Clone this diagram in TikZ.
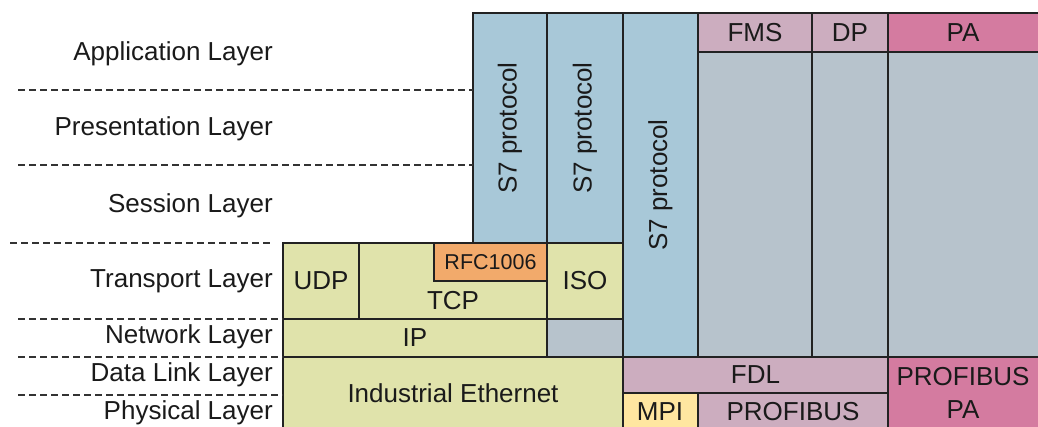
\documentclass[tikz,border=0pt]{standalone}
\usepackage{fontspec}
\setmainfont{Liberation Sans}
\usetikzlibrary{fit}
\definecolor{sblue}{HTML}{A8C8D8}
\definecolor{sgrey}{HTML}{B7C3CC}
\definecolor{spink}{HTML}{CCADBF}
\definecolor{smag}{HTML}{D47BA0}
\definecolor{syg}{HTML}{E0E3AB}
\definecolor{sorange}{HTML}{F2AA6B}
\definecolor{syel}{HTML}{FFE6A0}
\definecolor{sline}{HTML}{222222}
\definecolor{stext}{HTML}{1A1A1A}
\begin{document}
\begin{tikzpicture}[x=1pt,y=-1pt,
  cell/.style={draw=sline, line width=2pt, inner sep=0pt, outer sep=0pt, rectangle},
  lbl/.style={inner sep=0pt, font=\fontsize{26}{30}\selectfont, text=stext},
  small/.style={lbl, font=\fontsize{21.5}{24}\selectfont},
  layer/.style={lbl, anchor=east},
  divider/.style={draw=black!80, line width=1.3pt, dash pattern=on 7pt off 4pt}]
\useasboundingbox (0,0) rectangle (1038,427);
\clip (0,0) rectangle (1038,427);
% S7 protocol columns
\node[cell, fill=sblue, fit={(473,13)(547,243)}] (s7a) {};
\node[cell, fill=sblue, fit={(547,13)(623,243)}] (s7b) {};
\node[cell, fill=sblue, fit={(623,13)(698,357)}] (s7c) {};
\node[lbl, rotate=90] (s7at) at (s7a.center) {S7 protocol};
\node[lbl, rotate=90] (s7bt) at (s7b.center) {S7 protocol};
\node[lbl, rotate=90] (s7ct) at (s7c.center) {S7 protocol};
% PROFIBUS upper layers
\node[cell, fill=spink, fit={(698,13)(812,52)}] (fms) {};
\node[lbl] (fmst) at (fms.center) {FMS};
\node[cell, fill=spink, fit={(812,13)(888,52)}] (dp) {};
\node[lbl] (dpt) at (dp.center) {DP};
\node[cell, fill=smag, fit={(888,13)(1041,52)}] (pa) {};
\node[lbl] (pat) at (963,33) {PA};
\node[cell, fill=sgrey, fit={(698,52)(812,357)}] (g1) {};
\node[cell, fill=sgrey, fit={(812,52)(888,357)}] (g2) {};
\node[cell, fill=sgrey, fit={(888,52)(1041,357)}] (g3) {};
% Ethernet stack
\node[cell, fill=syg, fit={(283,243)(359,319)}] (udp) {};
\node[lbl] (udpt) at (udp.center) {UDP};
\node[cell, fill=syg, fit={(359,243)(547,319)}] (tcp) {};
\node[lbl] (tcpt) at (453,301) {TCP};
\node[cell, fill=sorange, fit={(434,243)(547,281)}] (rfc) {};
\node[small] (rfct) at (rfc.center) {RFC1006};
\node[cell, fill=syg, fit={(547,243)(623,319)}] (iso) {};
\node[lbl] (isot) at (iso.center) {ISO};
\node[cell, fill=syg, fit={(283,319)(547,357)}] (ip) {};
\node[lbl] (ipt) at (ip.center) {IP};
\node[cell, fill=sgrey, fit={(547,319)(623,357)}] (g4) {};
\node[cell, fill=syg, fit={(283,357)(623,433)}] (eth) {};
\node[lbl] (etht) at (453,393) {Industrial Ethernet};
% PROFIBUS lower layers
\node[cell, fill=spink, fit={(623,357)(888,393)}] (fdl) {};
\node[lbl] (fdlt) at (fdl.center) {FDL};
\node[cell, fill=syel, fit={(623,393)(698,433)}] (mpi) {};
\node[lbl] (mpit) at (660,412) {MPI};
\node[cell, fill=spink, fit={(698,393)(888,433)}] (prof) {};
\node[lbl] (proft) at (793,412) {PROFIBUS};
\node[cell, fill=smag, fit={(888,357)(1041,433)}] (ppa) {};
\node[lbl] (ppat1) at (963,377) {PROFIBUS};
\node[lbl] (ppat2) at (963,410) {PA};
% layer names
\node[layer] (l1) at (273,54) {Application Layer};
\node[layer] (l2) at (273,129) {Presentation Layer};
\node[layer] (l3) at (273,206) {Session Layer};
\node[layer] (l4) at (273,281) {Transport Layer};
\node[layer] (l5) at (273,337) {Network Layer};
\node[layer] (l6) at (273,375) {Data Link Layer};
\node[layer] (l7) at (273,413) {Physical Layer};
% dividers
\coordinate (d1) at (18,90);
\coordinate (d2) at (18,165);
\coordinate (d3a) at (10,243);
\coordinate (d3b) at (272,243);
\coordinate (d4) at (18,319);
\coordinate (d5) at (18,357);
\coordinate (d6) at (18,395);
\draw[divider] (d1) -- (d1 -| s7a.west);
\draw[divider] (d2) -- (d2 -| s7a.west);
\draw[divider] (d3a) -- (d3b);
\draw[divider] (d4) -- (d4 -| udp.west);
\draw[divider] (d5) -- (d5 -| udp.west);
\draw[divider] (d6) -- (d6 -| udp.west);
\end{tikzpicture}
\end{document}
